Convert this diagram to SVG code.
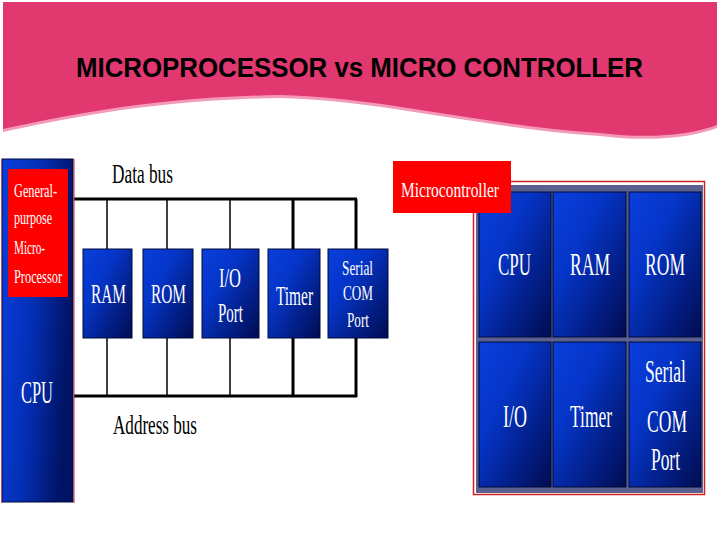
<svg xmlns="http://www.w3.org/2000/svg" width="720" height="540" viewBox="0 0 720 540">
<defs>
<linearGradient id="blu" x1="0" y1="0" x2="1" y2="1">
<stop offset="0" stop-color="#0a3fdc"/>
<stop offset="0.35" stop-color="#0535c8"/>
<stop offset="1" stop-color="#000c50"/>
</linearGradient>
<linearGradient id="bar" x1="0" y1="0" x2="1" y2="0.3">
<stop offset="0" stop-color="#0a3fdc"/>
<stop offset="0.5" stop-color="#0430b8"/>
<stop offset="1" stop-color="#001466"/>
</linearGradient>
<style>
.box{fill:url(#blu);stroke:#000a3a;stroke-width:1}
.wt{fill:#ffffff;font-family:"Liberation Serif","Times New Roman",serif}
.bk{fill:#000000;font-family:"Liberation Serif","Times New Roman",serif}
.bus{stroke:#000;stroke-width:3;fill:none}
.drop{stroke:#000;stroke-width:1.5;fill:none}
</style>
</defs>
<rect width="720" height="540" fill="#ffffff"/>
<g id="header">
<path d="M3,2 H717 V128 C690,138 650,142 600,136 C480,128 380,100 280,98 C150,100 60,120 3,132 Z" fill="#f49ab8"/>
<path d="M3,2 H717 V125 C690,135 650,139 600,133 C480,125 380,97 280,95 C150,97 60,117 3,129 Z" fill="#e0386f"/>
<text x="76" y="77" font-family="'Liberation Sans',Arial,sans-serif" font-weight="bold" font-size="27" fill="#000" textLength="567" lengthAdjust="spacingAndGlyphs">MICROPROCESSOR vs MICRO CONTROLLER</text>
</g>
<g id="connectors">
<line class="bus" x1="74" y1="199" x2="357" y2="199"/>
<line class="bus" x1="74" y1="396" x2="357" y2="396"/>
<line class="bus" x1="356" y1="199" x2="356" y2="397"/>
<line class="drop" x1="107" y1="199" x2="107" y2="396"/>
<line class="drop" x1="167" y1="199" x2="167" y2="396"/>
<line class="drop" x1="230" y1="199" x2="230" y2="396"/>
<line class="bus" x1="293" y1="199" x2="293" y2="396"/>
</g>
<g id="cpu-bar">
<rect x="2" y="159" width="71" height="343" fill="url(#bar)" stroke="#000a3a" stroke-width="1"/>
<line x1="74" y1="159" x2="74" y2="503" stroke="#d03030" stroke-width="1"/>
<line x1="1.5" y1="159" x2="1.5" y2="503" stroke="#c05050" stroke-width="0.8"/>
<rect x="8" y="169" width="60" height="128" fill="#ff0000"/>
<text class="wt" x="14" y="197" font-size="19" textLength="43" lengthAdjust="spacingAndGlyphs">General-</text>
<text class="wt" x="14" y="224" font-size="19" textLength="38" lengthAdjust="spacingAndGlyphs">purpose</text>
<text class="wt" x="14" y="254" font-size="19" textLength="31" lengthAdjust="spacingAndGlyphs">Micro-</text>
<text class="wt" x="14" y="283" font-size="19" textLength="48" lengthAdjust="spacingAndGlyphs">Processor</text>
<text class="wt" x="21" y="403" font-size="31" textLength="32" lengthAdjust="spacingAndGlyphs">CPU</text>
</g>
<g id="labels">
<text class="bk" x="112" y="183" font-size="28" textLength="61" lengthAdjust="spacingAndGlyphs">Data bus</text>
<text class="bk" x="113" y="434" font-size="28" textLength="84" lengthAdjust="spacingAndGlyphs">Address bus</text>
</g>
<g id="ram">
<rect class="box" x="83" y="249" width="49" height="89"/>
<text class="wt" x="91" y="303" font-size="27" textLength="35" lengthAdjust="spacingAndGlyphs">RAM</text>
</g>
<g id="rom">
<rect class="box" x="143" y="249" width="50" height="89"/>
<text class="wt" x="151" y="303" font-size="27" textLength="35" lengthAdjust="spacingAndGlyphs">ROM</text>
</g>
<g id="io-port">
<rect class="box" x="202" y="249" width="57" height="89"/>
<text class="wt" x="219" y="287" font-size="27" textLength="22" lengthAdjust="spacingAndGlyphs">I/O</text>
<text class="wt" x="218" y="322" font-size="27" textLength="25" lengthAdjust="spacingAndGlyphs">Port</text>
</g>
<g id="timer">
<rect class="box" x="268" y="249" width="52" height="89"/>
<text class="wt" x="276" y="305" font-size="27" textLength="37" lengthAdjust="spacingAndGlyphs">Timer</text>
</g>
<g id="serial-com">
<rect class="box" x="328" y="249" width="60" height="89"/>
<text class="wt" x="342" y="275" font-size="22" textLength="31" lengthAdjust="spacingAndGlyphs">Serial</text>
<text class="wt" x="343" y="300" font-size="22" textLength="30" lengthAdjust="spacingAndGlyphs">COM</text>
<text class="wt" x="347" y="327" font-size="22" textLength="22" lengthAdjust="spacingAndGlyphs">Port</text>
</g>
<g id="microcontroller">
<rect x="473.5" y="181.5" width="231" height="313" fill="#ffffff" stroke="#d02020" stroke-width="1.5"/>
<rect x="476" y="185" width="227" height="308" fill="#5a6090"/>
<rect class="box" x="479" y="192" width="72" height="145" stroke="none"/>
<rect class="box" x="553" y="192" width="73" height="145" stroke="none"/>
<rect class="box" x="629" y="192" width="72" height="145" stroke="none"/>
<rect class="box" x="479" y="342" width="72" height="145" stroke="none"/>
<rect class="box" x="553" y="342" width="73" height="145" stroke="none"/>
<rect class="box" x="629" y="342" width="72" height="145" stroke="none"/>
<text class="wt" x="498" y="275" font-size="31" textLength="33" lengthAdjust="spacingAndGlyphs">CPU</text>
<text class="wt" x="570" y="275" font-size="31" textLength="40" lengthAdjust="spacingAndGlyphs">RAM</text>
<text class="wt" x="645" y="275" font-size="31" textLength="40" lengthAdjust="spacingAndGlyphs">ROM</text>
<text class="wt" x="503" y="427" font-size="31" textLength="24" lengthAdjust="spacingAndGlyphs">I/O</text>
<text class="wt" x="570" y="427" font-size="31" textLength="42" lengthAdjust="spacingAndGlyphs">Timer</text>
<text class="wt" x="645" y="382" font-size="31" textLength="41" lengthAdjust="spacingAndGlyphs">Serial</text>
<text class="wt" x="647" y="432" font-size="31" textLength="40" lengthAdjust="spacingAndGlyphs">COM</text>
<text class="wt" x="651" y="470" font-size="31" textLength="29" lengthAdjust="spacingAndGlyphs">Port</text>
<rect x="393" y="161" width="118" height="52" fill="#ff0000"/>
<text class="wt" x="401" y="197" font-size="22" textLength="98" lengthAdjust="spacingAndGlyphs">Microcontroller</text>
</g>
</svg>
